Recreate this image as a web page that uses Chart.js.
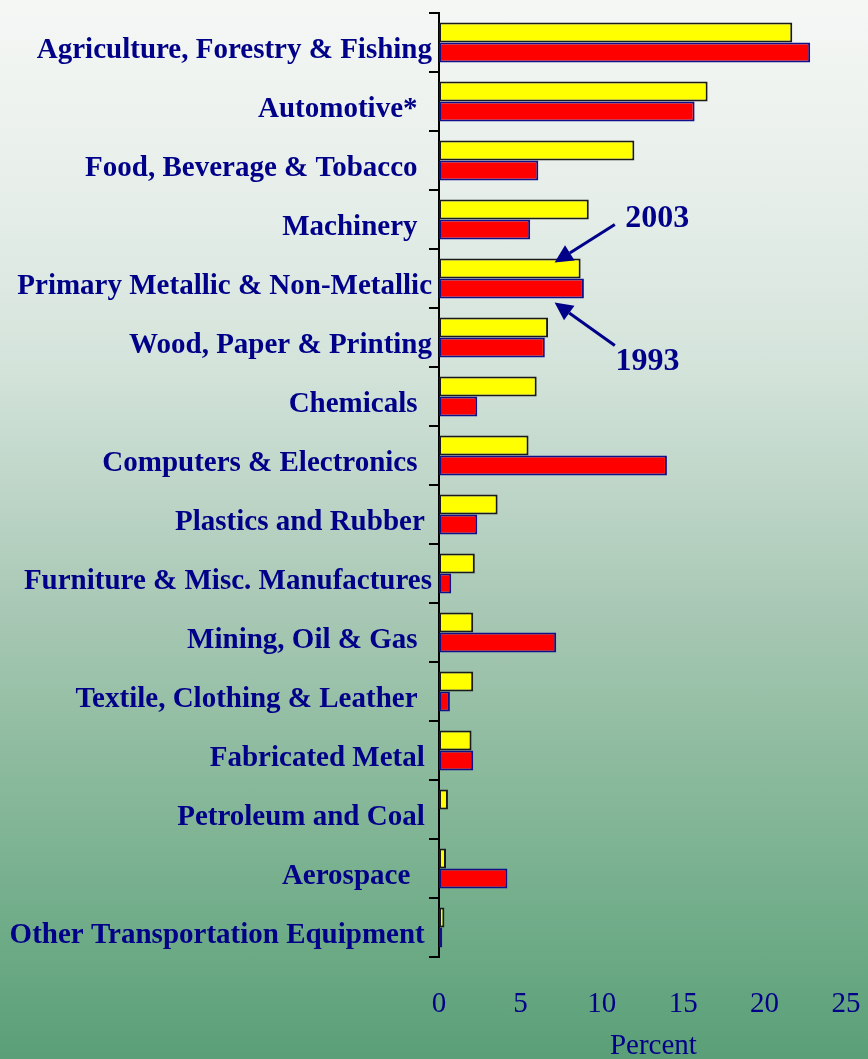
<!DOCTYPE html>
<html><head><meta charset="utf-8">
<script src="https://cdn.jsdelivr.net/npm/chart.js@4/dist/chart.umd.min.js"></script>
<style>
html,body{margin:0;padding:0;}
#wrap{width:868px;height:1059px;background:linear-gradient(to bottom,#f5f7f5 0px,#e6eee9 200px,#d3e3da 370px,#aac9b6 600px,#89b99b 780px,#6aa984 960px,#5a9f77 1059px);}
canvas{display:block;}
</style></head><body>
<div id="wrap"><canvas id="c" width="868" height="1059"></canvas></div>
<script>
const categories = [
  "Agriculture, Forestry & Fishing",
  "Automotive*  ",
  "Food, Beverage & Tobacco  ",
  "Machinery  ",
  "Primary Metallic & Non-Metallic",
  "Wood, Paper & Printing",
  "Chemicals  ",
  "Computers & Electronics  ",
  "Plastics and Rubber ",
  "Furniture & Misc. Manufactures",
  "Mining, Oil & Gas  ",
  "Textile, Clothing & Leather  ",
  "Fabricated Metal ",
  "Petroleum and Coal ",
  "Aerospace   ",
  "Other Transportation Equipment "
];
const seriesNames = ["2003", "1993"];
const values2003 = [21.7, 16.5, 12.0, 9.2, 8.7, 6.7, 6.0, 5.5, 3.6, 2.2, 2.1, 2.1, 2.0, 0.55, 0.43, 0.33];
const values1993 = [22.8, 15.7, 6.1, 5.6, 8.9, 6.5, 2.35, 14.0, 2.35, 0.75, 7.2, 0.67, 2.1, 0, 4.2, 0.2];
const xTickValues = [0, 5, 10, 15, 20, 25];
const axisTitle = "   Percent";

const NAVY = '#000088';
const SERIF = '"Liberation Serif", "Times New Roman", serif';

const arrowPlugin = {
  id: 'arrows',
  afterDraw(chart) {
    const ctx = chart.ctx;
    const xs = chart.scales.x, ys = chart.scales.y;
    const cy = ys.getPixelForValue(4);
    const tipX = xs.getPixelForValue(7.1);
    const tailX = xs.getPixelForValue(10.8);
    const items = [
      {text: seriesNames[0], tx: xs.getPixelForValue(13.4), ty: cy - 60, from: [tailX, cy - 54], to: [tipX, cy - 16]},
      {text: seriesNames[1], tx: xs.getPixelForValue(12.8), ty: cy + 83, from: [tailX, cy + 67], to: [tipX, cy + 24]}
    ];
    ctx.save();
    ctx.strokeStyle = NAVY; ctx.fillStyle = NAVY;
    ctx.lineWidth = 3;
    items.forEach(it => {
      const [x1, y1] = it.from, [x2, y2] = it.to;
      const ang = Math.atan2(y2 - y1, x2 - x1);
      const hl = 18, hw = 9;
      const bx = x2 - hl * Math.cos(ang), by = y2 - hl * Math.sin(ang);
      ctx.beginPath(); ctx.moveTo(x1, y1); ctx.lineTo(bx, by); ctx.stroke();
      ctx.beginPath();
      ctx.moveTo(x2, y2);
      ctx.lineTo(bx + hw * Math.sin(ang), by - hw * Math.cos(ang));
      ctx.lineTo(bx - hw * Math.sin(ang), by + hw * Math.cos(ang));
      ctx.closePath(); ctx.fill();
      ctx.font = 'bold 32px ' + SERIF;
      ctx.textAlign = 'center'; ctx.textBaseline = 'middle';
      ctx.fillText(it.text, it.tx, it.ty);
    });
    ctx.restore();
  }
};

new Chart(document.getElementById('c'), {
  type: 'bar',
  data: {
    labels: categories,
    datasets: [
      {label: seriesNames[0], data: values2003, backgroundColor: '#ffff00', borderColor: '#1a1a1a', borderWidth: 2, borderSkipped: false},
      {label: seriesNames[1], data: values1993, backgroundColor: '#ff0000', borderColor: '#10108a', borderWidth: 2, borderSkipped: false}
    ]
  },
  options: {
    indexAxis: 'y',
    responsive: false,
    animation: false,
    devicePixelRatio: 1,
    layout: {padding: {left: 0, right: 22, top: 10, bottom: 0}},
    datasets: {bar: {categoryPercentage: 0.68, barPercentage: 1.0}},
    plugins: {legend: {display: false}, tooltip: {enabled: false}},
    scales: {
      x: {
        type: 'linear', min: 0, max: 25,
        afterBuildTicks: s => { s.ticks = xTickValues.map(v => ({value: v})); },
        afterFit: s => { s.height = 102; s.paddingRight = 0; s.paddingLeft = 0; },
        grid: {display: false},
        border: {display: false},
        ticks: {color: NAVY, padding: 22, font: {family: SERIF, size: 29}},
        title: {display: true, text: axisTitle, color: NAVY, padding: {top: 0, bottom: 0}, font: {family: SERIF, size: 29, lineHeight: 0.9}}
      },
      y: {
        type: 'category',
        offset: true,
        afterFit: s => { s.width = 439; },
        grid: {display: true, offset: true, drawOnChartArea: false, drawTicks: true, tickLength: 10, color: '#000', lineWidth: 2},
        border: {display: true, color: '#000', width: 2},
        ticks: {
          autoSkip: false, padding: -3, color: NAVY,
          font: {family: SERIF, size: 29, weight: 'bold', lineHeight: '16px'},
          callback: function(v) { return ['', this.getLabelForValue(v)]; }
        }
      }
    }
  },
  plugins: [arrowPlugin]
});
</script>
</body></html>
